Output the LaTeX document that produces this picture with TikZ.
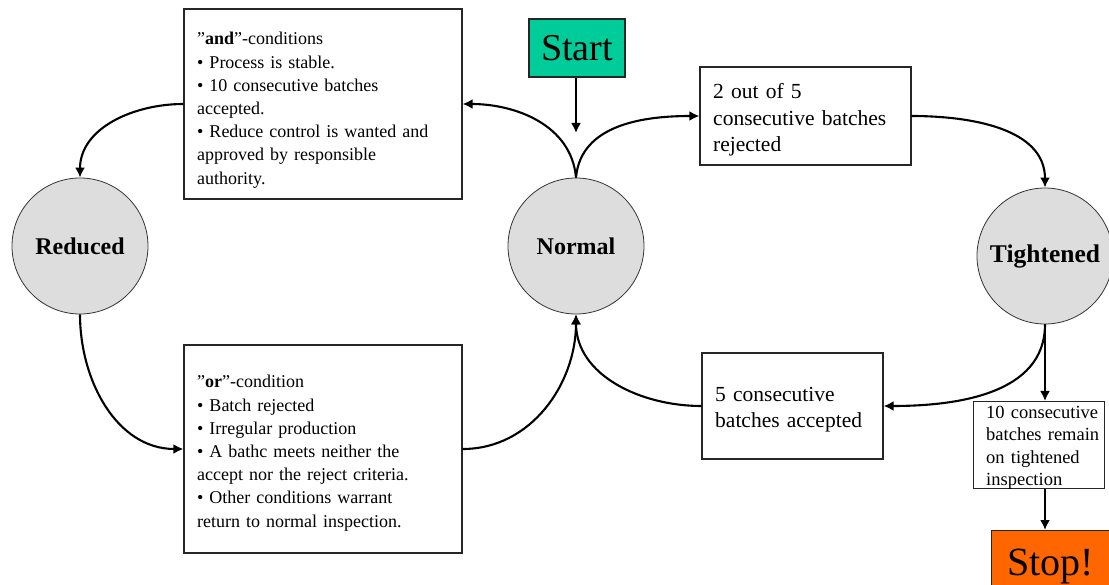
\documentclass[tikz,border=0pt]{standalone}
\usepackage{fontspec}
\setmainfont{Liberation Serif}
\usetikzlibrary{arrows.meta}
\definecolor{startgreen}{RGB}{0,204,153}
\definecolor{stoporange}{RGB}{255,102,0}
\definecolor{stategray}{RGB}{221,221,221}
\tikzset{
  state/.style={circle,draw=black!80,line width=0.8pt,fill=stategray,minimum size=136pt,inner sep=0pt,font=\fontsize{24}{28}\selectfont\bfseries},
  condbox/.style={draw=black!85,line width=1.2pt,fill=white,inner sep=0pt},
  boxtext/.style={anchor=base west,inner sep=0pt,align=left},
  conn/.style={line width=2.1pt,-{Latex[length=10pt,width=10pt]}},
}
\begin{document}
\begin{tikzpicture}[x=1pt,y=-1pt]
\useasboundingbox (0,0) rectangle (1109,585);
% states
\node[state] (red) at (80,246) {Reduced};
\node[state] (nor) at (576,246) {Normal};
\node[state,font=\fontsize{25.5}{28}\selectfont\bfseries] (tig) at (1045,256) {Tightened};
% start / stop
\node[condbox,fill=startgreen,minimum width=96pt,minimum height=58pt,font=\fontsize{38}{42}\selectfont] (start) at (577,48) {Start};
\node[condbox,fill=stoporange,minimum width=118pt,minimum height=72pt,anchor=north west,font=\fontsize{40}{42}\selectfont] (stop) at (991,530) {Stop!};
% condition boxes
\node[condbox,minimum width=278pt,minimum height=190pt] (andb) at (323,104) {};
\node[boxtext,text width=262pt,font=\fontsize{18}{23.2}\selectfont] (andt) at (197,45) {%
''\textbf{and}''-conditions\\
\textbullet{} Process is stable.\\
\textbullet{} 10 consecutive batches\\
accepted.\\
\textbullet{} Reduce control is wanted and\\
approved by responsible\\
authority.};
\node[condbox,minimum width=278pt,minimum height=208pt] (orb) at (323,449) {};
\node[boxtext,text width=262pt,font=\fontsize{18}{23.2}\selectfont] (ort) at (197,388) {%
''\textbf{or}''-condition\\
\textbullet{} Batch rejected\\
\textbullet{} Irregular production\\
\textbullet{} A bathc meets neither the\\
accept nor the reject criteria.\\
\textbullet{} Other conditions warrant\\
return to normal inspection.};
\node[condbox,minimum width=211pt,minimum height=98pt] (two) at (805.5,116) {};
\node[boxtext,text width=195pt,font=\fontsize{21.5}{26.3}\selectfont] (twot) at (713,99) {%
2 out of 5\\
consecutive batches\\
rejected};
\node[condbox,minimum width=181pt,minimum height=106pt] (five) at (792.5,406) {};
\node[boxtext,text width=170pt,font=\fontsize{21.5}{26}\selectfont] (fivet) at (715,402) {%
5 consecutive\\
batches accepted};
\node[condbox,fill=none,minimum width=131pt,minimum height=87pt,anchor=north west] (ten) at (973,401) {};
\node[boxtext,text width=123pt,font=\fontsize{18.5}{22.6}\selectfont] (tent) at (986,418) {%
10 consecutive\\
batches remain\\
on tightened\\
inspection};
% connectors
\coordinate (startend) at (576,133);
\draw[conn] (start.south -| startend) -- (startend);
\draw[conn] (nor.north) to[out=95,in=0] (andb.east);
\draw[conn] (nor.north) to[out=85,in=180] (two.west);
\draw[conn] (andb.west) to[out=180,in=90] (red.north);
\draw[conn] (red.south) to[out=270,in=180] (orb.west);
\draw[conn] (orb.east) to[out=0,in=270] (nor.south);
\draw[conn] (two.east) to[out=0,in=90] (tig.north);
\draw[conn] (tig.south) to[out=270,in=0] (five.east);
\draw[conn] (five.west) to[out=180,in=270] (nor.south);
\draw[conn] (tig.south) -- (tig.south |- ten.north);
\draw[conn] (tig.south |- ten.south) -- (tig.south |- stop.north);
\end{tikzpicture}
\end{document}
